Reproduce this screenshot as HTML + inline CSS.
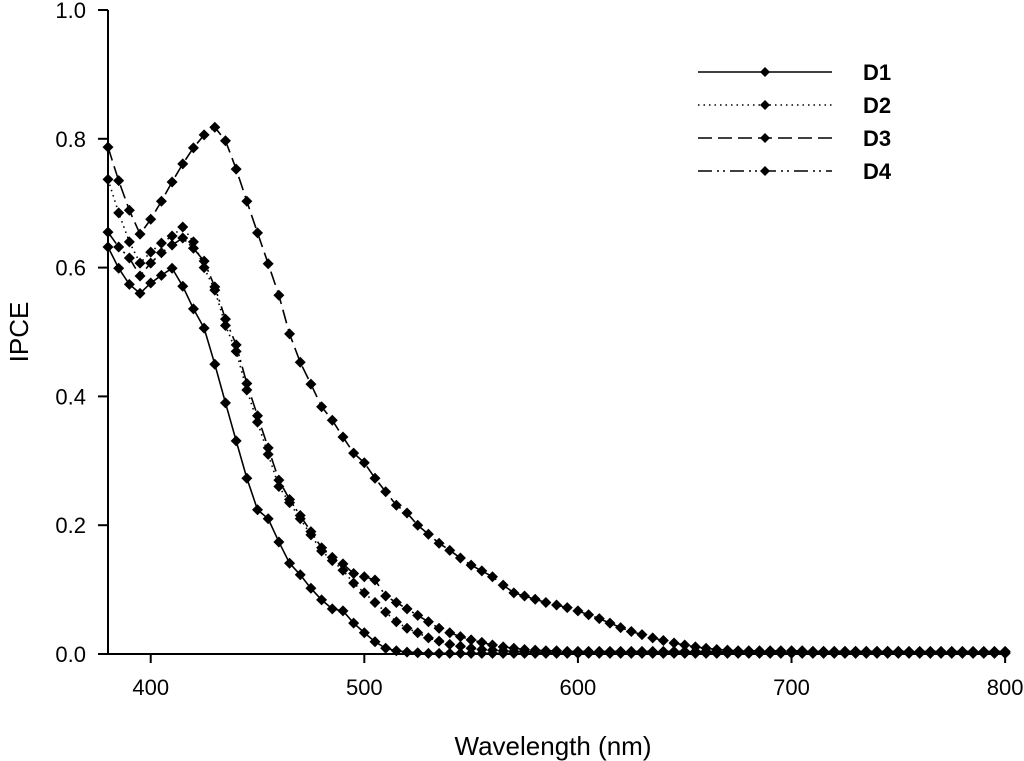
<!DOCTYPE html>
<html><head><meta charset="utf-8"><style>
body{margin:0;background:#fff}
svg{display:block;font-family:"Liberation Sans",sans-serif}
</style></head><body>
<svg id="chart" width="1024" height="761">
<g id="axes"></g><g id="series"></g><g id="legend"></g>
</svg>
<script>
const wl=[];for(let w=380;w<=800;w+=5)wl.push(w);
const d1=[0.632,0.599,0.574,0.560,0.576,0.588,0.599,0.571,0.536,0.506,0.450,0.390,0.331,0.273,0.224,0.210,0.174,0.141,0.123,0.102,0.084,0.070,0.067,0.048,0.033,0.019,0.009,0.005,0.003,0.002,0.001,0.001,0.001,0.001,0.001,0.001,0.001,0.001,0.001,0.001,0.001,0.001,0.001,0.001,0.001,0.001,0.001,0.001,0.001,0.001,0.001,0.001,0.001,0.001,0.001,0.001,0.001,0.001,0.001,0.001,0.001,0.001,0.001,0.001,0.001,0.001,0.001,0.001,0.001,0.001,0.001,0.001,0.001,0.001,0.001,0.001,0.001,0.001,0.001,0.001,0.001,0.001,0.001,0.001,0.001];
const d2=[0.737,0.685,0.640,0.607,0.624,0.638,0.649,0.663,0.640,0.600,0.565,0.510,0.470,0.410,0.360,0.310,0.260,0.235,0.210,0.185,0.160,0.145,0.130,0.110,0.095,0.080,0.065,0.050,0.040,0.033,0.025,0.020,0.015,0.012,0.009,0.007,0.006,0.005,0.004,0.004,0.003,0.003,0.003,0.003,0.003,0.003,0.003,0.003,0.003,0.003,0.003,0.003,0.003,0.003,0.003,0.003,0.003,0.003,0.003,0.003,0.003,0.003,0.003,0.003,0.003,0.003,0.003,0.003,0.003,0.003,0.003,0.003,0.003,0.003,0.003,0.003,0.003,0.003,0.003,0.003,0.003,0.003,0.003,0.003,0.003];
const d3=[0.787,0.735,0.689,0.652,0.675,0.703,0.733,0.761,0.786,0.806,0.818,0.797,0.753,0.703,0.654,0.606,0.557,0.497,0.453,0.419,0.384,0.363,0.337,0.312,0.297,0.273,0.252,0.231,0.219,0.200,0.186,0.172,0.161,0.149,0.138,0.129,0.120,0.107,0.095,0.090,0.085,0.080,0.076,0.072,0.067,0.061,0.055,0.048,0.041,0.035,0.030,0.025,0.021,0.017,0.014,0.011,0.009,0.007,0.006,0.005,0.005,0.005,0.005,0.005,0.005,0.005,0.004,0.004,0.004,0.004,0.004,0.004,0.004,0.004,0.004,0.003,0.003,0.003,0.003,0.003,0.003,0.003,0.003,0.003,0.003];
const d4=[0.655,0.632,0.615,0.587,0.607,0.623,0.635,0.646,0.630,0.610,0.570,0.520,0.480,0.420,0.370,0.320,0.270,0.240,0.215,0.190,0.165,0.150,0.140,0.125,0.120,0.115,0.090,0.080,0.070,0.060,0.050,0.040,0.033,0.027,0.022,0.018,0.014,0.011,0.009,0.007,0.006,0.005,0.005,0.004,0.004,0.004,0.004,0.004,0.004,0.004,0.004,0.004,0.004,0.004,0.004,0.004,0.004,0.004,0.004,0.004,0.004,0.004,0.004,0.004,0.004,0.004,0.004,0.004,0.004,0.004,0.004,0.004,0.004,0.004,0.004,0.004,0.004,0.004,0.004,0.004,0.004,0.004,0.004,0.004,0.004];
const xTicks=[400,500,600,700,800];
const yTicks=[0,0.2,0.4,0.6,0.8,1.0];
const names=["D1","D2","D3","D4"];
const dashes=["none","1.5,4","14,6","14,5,2,4,2,5"];
const X=w=>108+(w-380)*2.136;
const Y=v=>654-v*644;
const NS="http://www.w3.org/2000/svg";
function mk(p,t,a){const e=document.createElementNS(NS,t);for(const k in a)e.setAttribute(k,a[k]);p.appendChild(e);return e;}
const ax=document.getElementById('axes');
let l=mk(ax,'line',{x1:108,y1:Y(1),x2:108,y2:654,stroke:'#000','stroke-width':2});


l=mk(ax,'line',{x1:107,y1:654,x2:1006,y2:654,stroke:'#000','stroke-width':2});


xTicks.forEach(t=>{mk(ax,'line',{x1:X(t),y1:654,x2:X(t),y2:663,stroke:'#000','stroke-width':2});
 const tx=mk(ax,'text',{x:X(t),y:695,'text-anchor':'middle','font-size':22});tx.textContent=t;
 
 });
yTicks.forEach(t=>{mk(ax,'line',{x1:98,y1:Y(t),x2:108,y2:Y(t),stroke:'#000','stroke-width':2});
 const tx=mk(ax,'text',{x:86,y:Y(t)+8,'text-anchor':'end','font-size':22});tx.textContent=t.toFixed(1);
 
 });
let tt=mk(ax,'text',{x:553,y:755,'text-anchor':'middle','font-size':26});tt.textContent='Wavelength (nm)';


tt=mk(ax,'text',{x:0,y:0,'text-anchor':'middle','font-size':26,transform:'translate(28,332) rotate(-90)'});tt.textContent='IPCE';


const se=document.getElementById('series');
function diamond(g,x,y,r){return mk(g,'path',{d:`M${x} ${y-r}L${x+r} ${y}L${x} ${y+r}L${x-r} ${y}Z`,fill:'#000'});}
[d1,d2,d3,d4].forEach((d,i)=>{
 const g=mk(se,'g',{});
 
 
 const pts=d.map((v,j)=>X(wl[j])+','+Y(v)).join(' ');
 mk(g,'polyline',{points:pts,fill:'none',stroke:'#000','stroke-width':1.6,'stroke-dasharray':dashes[i]});
 d.forEach((v,j)=>{const p=diamond(g,X(wl[j]),Y(v),5.5);
  
  });
});
const lg=document.getElementById('legend');
[72,105,138,171].forEach((y,i)=>{
 const g=mk(lg,'g',{});
 
 
 mk(g,'line',{x1:698,y1:y,x2:832,y2:y,stroke:'#000','stroke-width':1.6,'stroke-dasharray':dashes[i]});
 diamond(g,765,y,5);
 const t=mk(g,'text',{x:863,y:y+8,'font-size':22,'font-weight':'bold'});t.textContent=names[i];
});
</script>
</body></html>
